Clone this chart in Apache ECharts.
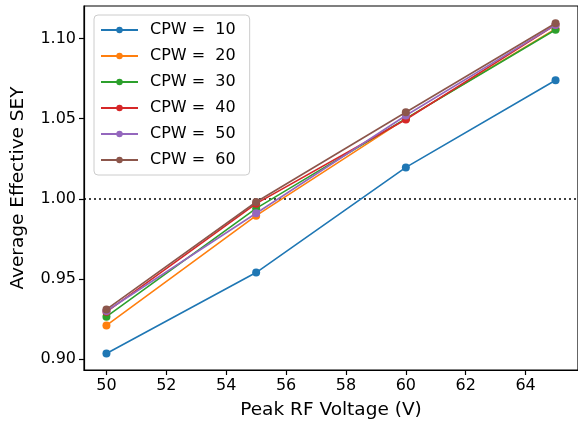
<!DOCTYPE html>
<html>
<head>
<meta charset="utf-8">
<script src="https://cdn.jsdelivr.net/npm/echarts@6/dist/echarts.min.js"></script>
<style>
  html, body { margin: 0; padding: 0; background: #fff; }
  #chart { width: 578px; height: 426px; }
</style>
</head>
<body>
<div id="chart"></div>
<script>
// voltages on the x axis
const voltages = [50, 55, 60, 65];
// one list of SEY values per CPW setting
const cpwLabels = ["CPW =  10", "CPW =  20", "CPW =  30", "CPW =  40", "CPW =  50", "CPW =  60"];
const sey10 = [0.9035, 0.954, 1.0196, 1.0740];
const sey20 = [0.9210, 0.9895, 1.0500, 1.1060];
const sey30 = [0.9265, 0.9940, 1.0500, 1.1055];
const sey40 = [0.9295, 0.9970, 1.0495, 1.1085];
const sey50 = [0.9300, 0.9910, 1.0520, 1.1085];
const sey60 = [0.9310, 0.9980, 1.0540, 1.1095];
const xTicks = [50, 52, 54, 56, 58, 60, 62, 64];
const yTicks = [0.90, 0.95, 1.00, 1.05, 1.10];

const colors = ["#1f77b4", "#ff7f0e", "#2ca02c", "#d62728", "#9467bd", "#8c564b"];
const allSey = [sey10, sey20, sey30, sey40, sey50, sey60];
const font = "DejaVu Sans";

const chart = echarts.init(document.getElementById("chart"));

const series = allSey.map((vals, i) => ({
  name: cpwLabels[i],
  type: "line",
  data: voltages.map((v, j) => [v, vals[j]]),
  symbol: "circle",
  symbolSize: 8,
  lineStyle: { width: 1.6, color: colors[i] },
  itemStyle: { color: colors[i] },
  z: 3 + i,
  markLine: i === 0 ? {
    silent: true,
    symbol: "none",
    label: { show: false },
    lineStyle: { type: [2, 3], color: "#000", width: 1.5 },
    data: [{ yAxis: 1.0 }],
    z: 2
  } : undefined
}));

chart.setOption({
  animation: false,
  color: colors,
  grid: {
    left: 84, top: 6, width: 496, height: 364,
    show: true, borderColor: "#000", borderWidth: 1.2
  },
  legend: {
    orient: "vertical",
    left: 94, top: 15,
    padding: [6, 14, 6, 6],
    itemGap: 8,
    itemWidth: 37,
    itemHeight: 8,
    borderColor: "#ccc",
    borderWidth: 1,
    borderRadius: 4,
    backgroundColor: "#fff",
    textStyle: { fontFamily: font, fontSize: 16, lineHeight: 18, color: "#000", padding: [0, 0, 0, 7] },
    data: cpwLabels
  },
  xAxis: {
    type: "value",
    min: 49.25, max: 65.75,
    name: "Peak RF Voltage (V)",
    nameLocation: "middle",
    nameGap: 31,
    nameTextStyle: { fontFamily: font, fontSize: 18.5, color: "#000" },
    splitLine: { show: false },
    axisLine: { show: true, lineStyle: { color: "#000", width: 1.2 } },
    axisTick: { show: true, customValues: xTicks, length: 5, lineStyle: { color: "#000", width: 1.2 } },
    axisLabel: { customValues: xTicks, fontFamily: font, fontSize: 16, color: "#000", margin: 8 }
  },
  yAxis: {
    type: "value",
    min: 0.8932, max: 1.1203,
    name: "Average Effective SEY",
    nameLocation: "middle",
    nameGap: 56,
    nameTextStyle: { fontFamily: font, fontSize: 18.5, color: "#000" },
    splitLine: { show: false },
    axisLine: { show: true, lineStyle: { color: "#000", width: 1.2 } },
    axisTick: { show: true, customValues: yTicks, length: 5, lineStyle: { color: "#000", width: 1.2 } },
    axisLabel: {
      customValues: yTicks, fontFamily: font, fontSize: 16, color: "#000", margin: 8,
      formatter: (v) => v.toFixed(2)
    }
  },
  series: series
});
</script>
</body>
</html>
